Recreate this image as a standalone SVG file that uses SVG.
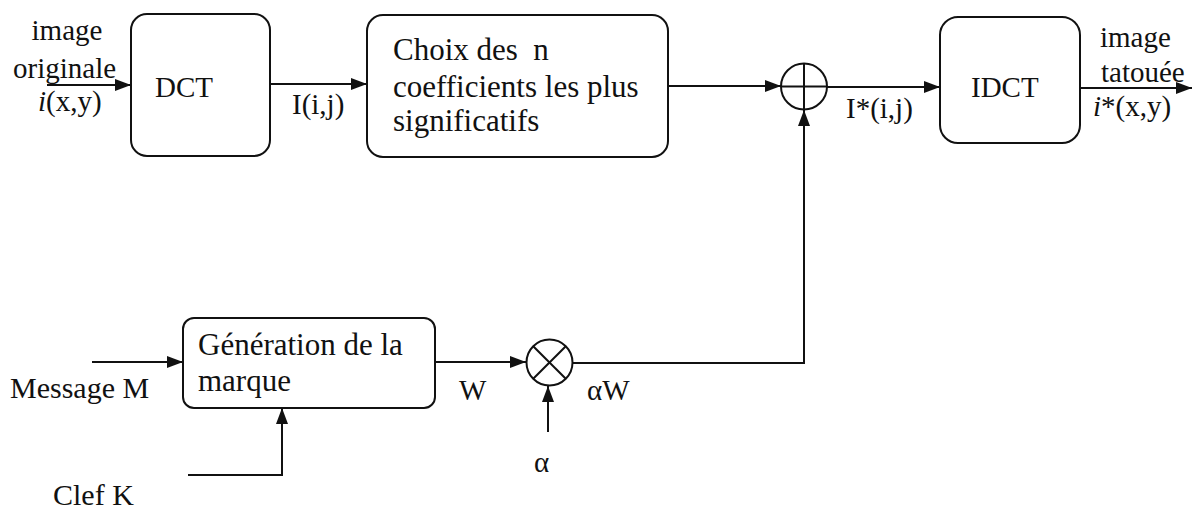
<svg xmlns="http://www.w3.org/2000/svg" width="1193" height="511" viewBox="0 0 1193 511">
<style>
text{font-family:'Liberation Serif','Times New Roman',serif;font-size:29px;fill:#111}
text.s30{font-size:30px}
text.s31{font-size:31px}
.it{font-style:italic}
.box{fill:none;stroke:#111;stroke-width:2}
.ln{fill:none;stroke:#111;stroke-width:2;marker-end:url(#ah)}
.pl{fill:none;stroke:#111;stroke-width:2}
</style>
<defs>
<marker id="ah" markerUnits="userSpaceOnUse" markerWidth="16" markerHeight="12" viewBox="0 0 16 12" refX="16" refY="6" orient="auto">
<path d="M0,0 L16,6 L0,12 Z" fill="#111"/>
</marker>
</defs>
<rect width="1193" height="511" fill="#fff"/>
<g id="connectors">
<line class="ln" x1="47" y1="85" x2="131" y2="85"/>
<line class="ln" x1="270" y1="84" x2="367" y2="84"/>
<line class="ln" x1="668" y1="86" x2="781" y2="86"/>
<line class="ln" x1="827" y1="87" x2="940" y2="87"/>
<line class="ln" x1="1080" y1="88" x2="1192" y2="88"/>
<line class="ln" x1="92" y1="362" x2="183" y2="362"/>
<polyline class="ln" points="188,475 282,475 282,408"/>
<line class="ln" x1="435" y1="362" x2="526" y2="362"/>
<line class="ln" x1="548" y1="432" x2="548" y2="386"/>
<polyline class="ln" points="573,363 804,363 804,110"/>
</g>
<g id="labels">
<text x="67" y="40" text-anchor="middle">image</text>
<text x="13" y="78">originale</text>
<text x="38" y="111"><tspan class="it">i</tspan>(x,y)</text>
<text x="292" y="114">I(i,j)</text>
<text x="846" y="118">I*(i,j)</text>
<text x="1100" y="47">image</text>
<text x="1101" y="82">tatouée</text>
<text x="1093" y="116"><tspan class="it">i</tspan>*(x,y)</text>
<text class="s30" x="10" y="398">Message M</text>
<text class="s30" x="53" y="505">Clef K</text>
<text x="459" y="400">W</text>
<text x="587" y="400">αW</text>
<text x="534" y="472">α</text>
</g>
<g id="dct">
<rect class="box" x="131" y="14" width="139" height="142" rx="16"/>
<text x="155" y="97">DCT</text>
</g>
<g id="choix">
<rect class="box" x="367" y="15" width="301" height="142" rx="16"/>
<text class="s31" x="393" y="60" xml:space="preserve">Choix des  n</text>
<text class="s31" x="393" y="97">coefficients les plus</text>
<text class="s31" x="393" y="131">significatifs</text>
</g>
<g id="somme">
<circle class="pl" cx="804" cy="86.5" r="23"/>
<line class="pl" x1="804" y1="63.5" x2="804" y2="109.5"/>
<line class="pl" x1="781" y1="86.5" x2="827" y2="86.5"/>
</g>
<g id="idct">
<rect class="box" x="940" y="17" width="140" height="126" rx="18"/>
<text x="971" y="97">IDCT</text>
</g>
<g id="generation">
<rect class="box" x="183" y="318" width="252" height="90" rx="11"/>
<text class="s31" x="198" y="355">Génération de la</text>
<text class="s31" x="198" y="391">marque</text>
</g>
<g id="produit">
<circle class="pl" cx="549.5" cy="362.5" r="23"/>
<line class="pl" x1="533.2" y1="346.2" x2="565.8" y2="378.8"/>
<line class="pl" x1="565.8" y1="346.2" x2="533.2" y2="378.8"/>
</g>
</svg>
